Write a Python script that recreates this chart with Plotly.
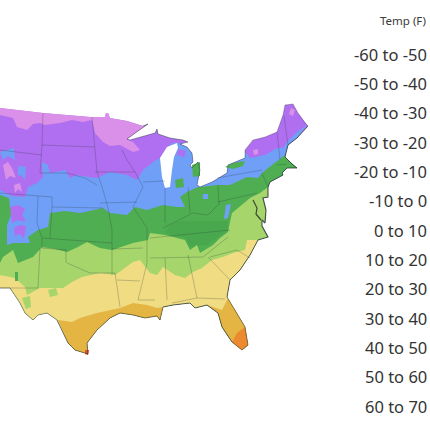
import plotly.graph_objects as go

TITLE = "Temp (F)"
LEGEND_LABELS = ["-60 to -50", "-50 to -40", "-40 to -30", "-30 to -20", "-20 to -10", "-10 to 0", "0 to 10",
                 "10 to 20", "20 to 30", "30 to 40", "40 to 50", "50 to 60", "60 to 70"]

# Map geometry
COAST_NORTH = [(0, 108), (43, 113), (90, 117), (105, 117), (106, 113), (108, 113), (110, 118), (127, 121), (143, 126),
               (148, 124), (138, 131), (127, 139), (130, 140), (137, 138), (150, 135), (155, 133), (157, 129), (158, 134),
               (170, 138), (183, 140), (188, 142)]
COAST_LAKES = [(188, 142), (180, 144), (187, 147), (192, 153), (193, 162), (190, 165), (192, 168), (198, 162), (200, 170),
               (197, 185), (200, 187), (212, 182), (227, 173), (228, 165), (245, 158), (245, 150)]
COAST_NE = [(245, 150), (253, 140), (265, 137), (277, 132), (283, 115), (285, 105), (293, 104), (298, 113), (305, 123), (308, 126)]
COAST_ATL_N = [(308, 126), (297, 138), (288, 145), (285, 157), (293, 165), (297, 168), (287, 168), (282, 173), (283, 175),
               (270, 182), (268, 187)]
COAST_ATL_M = [(268, 187), (268, 197), (263, 198), (266, 210), (265, 223), (262, 220), (262, 226), (267, 235), (268, 237), (258, 240)]
COAST_ATL_S = [(258, 240), (250, 255), (240, 270), (230, 280), (227, 297)]
COAST_FL_E = [(227, 297), (237, 313), (245, 327)]
COAST_FL_TIP = [(245, 327), (248, 345), (242, 350), (232, 342)]
COAST_FL_W = [(232, 342), (222, 327), (218, 313), (207, 305)]
COAST_PAN = [(207, 305), (195, 308), (190, 303), (173, 305), (163, 307)]
COAST_GULF = [(163, 307), (160, 320), (157, 316), (145, 318), (133, 315), (120, 313), (110, 318), (97, 330), (87, 343), (88, 354),
              (75, 350), (68, 343), (57, 320)]
COAST_MEX = [(57, 320), (47, 313), (38, 315), (33, 320), (25, 313), (20, 303), (10, 288), (0, 288)]
LAKE_MICHIGAN = [(177, 143), (167, 147), (160, 158), (162, 177), (165, 188), (170, 187), (172, 170), (174, 157), (178, 148)]
CHESAPEAKE = [(253, 200), (257, 208), (256, 214), (261, 220)]

PINK_SOUTH = [(128, 140), (133, 142), (140, 150), (133, 152), (120, 145), (110, 146), (103, 142), (95, 133), (92, 120), (83, 122),
              (72, 120), (60, 123), (45, 125), (40, 123), (33, 124), (27, 130), (17, 127), (13, 118), (0, 115)]
BLUE_WEST = [(0, 190), (12, 196), (25, 197), (28, 187), (37, 183), (43, 177), (42, 162), (48, 165), (50, 173), (65, 170), (70, 178),
             (77, 175), (88, 177), (97, 178), (110, 172), (127, 175), (137, 180), (143, 170), (153, 162), (160, 158), (165, 150), (172, 143), (185, 143)]
BLUE_EAST = [(245, 152), (250, 158), (265, 155), (277, 148), (283, 148), (287, 142), (297, 132), (307, 125)]
GREEN_WEST = [(0, 195), (9, 198), (11, 215), (7, 225), (7, 245), (13, 243), (30, 243), (28, 237), (38, 230), (48, 227), (50, 213), (65, 211), (80, 213),
              (103, 208), (110, 213), (127, 215), (135, 207), (147, 210), (163, 205), (177, 207), (185, 207), (180, 197), (187, 192), (198, 187)]
GREEN_EAST = [(217, 185), (230, 185), (247, 177), (258, 178), (262, 173), (272, 165), (278, 160), (285, 155)]
LIGHT_NORTH = [(0, 263), (3, 257), (13, 250), (18, 263), (33, 257), (42, 247), (55, 249), (67, 252), (78, 247), (87, 242), (100, 248), (112, 250), (133, 243), (148, 240),
               (150, 233), (165, 235), (185, 240), (190, 250), (197, 245), (200, 253), (208, 248), (213, 245), (220, 238), (228, 232),
               (230, 222), (232, 213), (250, 198), (260, 193), (268, 187)]
YELLOW_NORTH = [(0, 275), (15, 278), (25, 287), (27, 295), (40, 288), (63, 288), (72, 282), (82, 277), (100, 273), (115, 275), (133, 262),
                (140, 260), (150, 273), (157, 275), (163, 267), (175, 275), (185, 278), (193, 272), (202, 268), (212, 260), (223, 257),
                (233, 253), (245, 250), (247, 240), (258, 240)]
TAN_TEXAS = [(163, 307), (157, 308), (147, 305), (133, 303), (120, 308), (110, 310), (97, 313), (80, 318), (72, 322), (58, 320)]
TAN_FLORIDA = [(207, 305), (222, 310), (228, 298), (227, 297)]
ORANGE_FLORIDA = [(232, 342), (237, 333), (245, 327)]
RED_TIP = [(85, 350), (89, 350), (88, 355), (85, 354)]
PATCHES_PURPLE = [[(10, 207), (18, 205), (25, 209), (22, 215), (26, 222), (17, 220), (12, 223)], [(178, 149), (186, 151), (184, 158), (180, 155), (177, 156)],
                  [(14, 228), (20, 225), (26, 226), (24, 238), (19, 234), (15, 236)]]
PATCHES_PINK = [[(291, 108), (295, 110), (293, 116), (289, 114)], [(253, 150), (258, 149), (258, 154), (254, 155)],
                [(3, 165), (8, 162), (12, 168), (16, 178), (10, 176), (6, 180)], [(14, 185), (20, 183), (22, 192), (18, 189), (15, 193)]]
PATCHES_BLUE_WEST = [[(0, 152), (8, 150), (14, 148), (15, 160), (8, 156), (3, 160)], [(18, 166), (26, 167), (25, 180), (21, 175), (18, 176)]]
PATCHES_BLUE_EAST = [[(203, 194), (208, 194), (208, 199), (203, 199)], [(226, 205), (231, 204), (228, 218), (224, 219)]]
PATCHES_GREEN = [[(192, 165), (200, 162), (200, 176), (193, 177)], [(175, 180), (183, 178), (184, 187), (176, 188)],
                 [(225, 167), (233, 163), (245, 161), (243, 166), (233, 169)], [(0, 198), (5, 198), (5, 218), (0, 220)],
                 [(15, 272), (18, 272), (18, 281), (15, 281)]]
LIGHT_PATCH = [[(48, 290), (56, 288), (58, 295), (50, 297)], [(22, 298), (30, 296), (31, 307), (26, 309)]]
GREEN_DARK_PATCH = [(180, 221), (228, 221), (228, 230), (207, 245), (190, 247), (186, 238), (165, 233), (170, 225)]

STATE_LINES = [
    [(43, 113), (42, 145), (40, 173)], [(42, 145), (95, 147)], [(92, 117), (95, 147), (97, 172), (103, 190), (108, 208), (112, 230), (112, 275)],
    [(40, 173), (67, 173), (85, 178), (97, 185)], [(0, 150), (42, 155)], [(0, 193), (37, 196), (52, 197), (52, 207), (103, 208)],
    [(38, 196), (37, 223), (42, 238)], [(52, 207), (50, 238)], [(95, 172), (135, 172)], [(100, 203), (137, 202)],
    [(122, 150), (127, 160), (135, 172), (143, 187), (133, 207), (147, 228), (147, 263), (138, 300)], [(143, 182), (165, 181)],
    [(165, 188), (165, 223)], [(163, 228), (183, 218), (193, 213), (208, 215), (218, 205)], [(188, 187), (190, 213)], [(218, 185), (219, 205)],
    [(218, 202), (257, 193)], [(217, 178), (262, 170)], [(150, 238), (230, 230)], [(150, 258), (203, 257)], [(203, 257), (228, 237)],
    [(210, 257), (237, 250), (250, 258)], [(208, 257), (230, 280)], [(188, 255), (197, 298), (225, 299)], [(165, 258), (167, 300)], [(172, 303), (197, 298)],
    [(117, 280), (140, 281)], [(138, 300), (155, 300)], [(115, 273), (120, 307)], [(67, 263), (90, 273), (115, 273)],
    [(42, 238), (112, 243)], [(42, 238), (42, 248), (66, 250), (66, 263)], [(40, 248), (38, 288)], [(112, 249), (143, 248)], [(0, 288), (38, 288)],
    [(262, 173), (268, 187)], [(277, 165), (286, 164)], [(277, 132), (280, 160)], [(284, 116), (288, 145)],
]

ZONE_COLORS = {"purple": "#b06ff0", "pink": "#da90e8", "blue": "#6f9ff7", "green": "#4fae52", "darkgreen": "#49a84e",
               "light": "#a6d56b", "yellow": "#efdc83", "tan": "#e5b544", "orange": "#ec8a2f", "red": "#e0502a"}
OUTLINE = (COAST_NORTH + COAST_LAKES[1:] + COAST_NE[1:] + COAST_ATL_N[1:] + COAST_ATL_M[1:] + COAST_ATL_S[1:] + COAST_FL_E[1:]
           + COAST_FL_TIP[1:] + COAST_FL_W[1:] + COAST_PAN[1:] + COAST_GULF[1:] + COAST_MEX[1:])
SOUTH = COAST_ATL_S[1:] + COAST_FL_E[1:] + COAST_FL_TIP[1:] + COAST_FL_W[1:] + COAST_PAN[1:] + COAST_GULF[1:] + COAST_MEX[1:]

fig = go.Figure()


def poly(points, color):
    fig.add_trace(go.Scatter(x=[p[0] for p in points] + [points[0][0]], y=[p[1] for p in points] + [points[0][1]],
                             mode="lines", fill="toself", fillcolor=color, line=dict(width=0, color=color),
                             hoverinfo="skip", showlegend=False))


def stroke(seg, width, color):
    fig.add_trace(go.Scatter(x=[p[0] for p in seg], y=[p[1] for p in seg], mode="lines",
                             line=dict(width=width, color=color), hoverinfo="skip", showlegend=False))


poly(OUTLINE, ZONE_COLORS["purple"])
poly(COAST_NORTH[:12] + PINK_SOUTH, ZONE_COLORS["pink"])
for p in PATCHES_PINK:
    poly(p, ZONE_COLORS["pink"])
poly(BLUE_WEST + COAST_LAKES + BLUE_EAST + COAST_ATL_N[1:] + COAST_ATL_M[1:] + SOUTH, ZONE_COLORS["blue"])
for p in PATCHES_BLUE_WEST:
    poly(p, ZONE_COLORS["blue"])
for p in PATCHES_PURPLE:
    poly(p, ZONE_COLORS["purple"])
poly(GREEN_WEST + COAST_LAKES[10:11] + GREEN_EAST + COAST_ATL_N[3:] + COAST_ATL_M[1:] + SOUTH, ZONE_COLORS["green"])
for p in PATCHES_GREEN[:4]:
    poly(p, ZONE_COLORS["green"])
poly(GREEN_DARK_PATCH, ZONE_COLORS["darkgreen"])
for p in PATCHES_BLUE_EAST:
    poly(p, ZONE_COLORS["blue"])
poly(LIGHT_NORTH + COAST_ATL_M[1:] + SOUTH, ZONE_COLORS["light"])
poly(YELLOW_NORTH + SOUTH, ZONE_COLORS["yellow"])
for p in LIGHT_PATCH:
    poly(p, ZONE_COLORS["light"])
poly(PATCHES_GREEN[4], ZONE_COLORS["green"])
poly(TAN_TEXAS + COAST_GULF[-2:0:-1], ZONE_COLORS["tan"])
poly(TAN_FLORIDA + COAST_FL_E[1:] + COAST_FL_TIP[1:] + COAST_FL_W[1:], ZONE_COLORS["tan"])
poly(ORANGE_FLORIDA + COAST_FL_TIP[1:], ZONE_COLORS["orange"])
poly(RED_TIP, ZONE_COLORS["red"])
poly(LAKE_MICHIGAN, "#ffffff")

for seg in STATE_LINES:
    stroke(seg, 0.5, "rgba(40,50,50,0.5)")
for seg, w in [(COAST_NORTH[8:], 0.6), (COAST_LAKES, 0.5), (COAST_NE, 0.4), (COAST_ATL_N, 1.0), (COAST_ATL_M, 1.2), (COAST_ATL_S, 1.0),
               (COAST_FL_E, 0.7), (COAST_FL_TIP, 0.7), (COAST_FL_W, 1.0), (COAST_PAN, 1.0), (COAST_GULF, 0.8), (COAST_MEX, 0.6)]:
    stroke(seg, w, "rgba(30,40,40,0.7)")
stroke(CHESAPEAKE, 1.2, "rgba(30,40,40,0.8)")

anns = [dict(x=428, y=20, text=TITLE, showarrow=False, xanchor="right", yanchor="middle", font=dict(size=11.5, color="#3a3a3a"))]
for i, lab in enumerate(LEGEND_LABELS):
    anns.append(dict(x=429, y=54 + 29.35 * i, text=lab, showarrow=False, xanchor="right", yanchor="middle",
                     font=dict(size=16.5, color="#333333")))

fig.update_layout(width=430, height=430, margin=dict(l=0, r=0, t=0, b=0), plot_bgcolor="white", paper_bgcolor="white",
                  font=dict(family="Noto Sans"), annotations=anns, showlegend=False,
                  xaxis=dict(range=[0, 430], visible=False, fixedrange=True),
                  yaxis=dict(range=[430, 0], visible=False, fixedrange=True))
fig.write_html("out.html", config={"displayModeBar": False},
               post_script="document.body.style.margin='0';document.body.style.overflow='hidden';")
